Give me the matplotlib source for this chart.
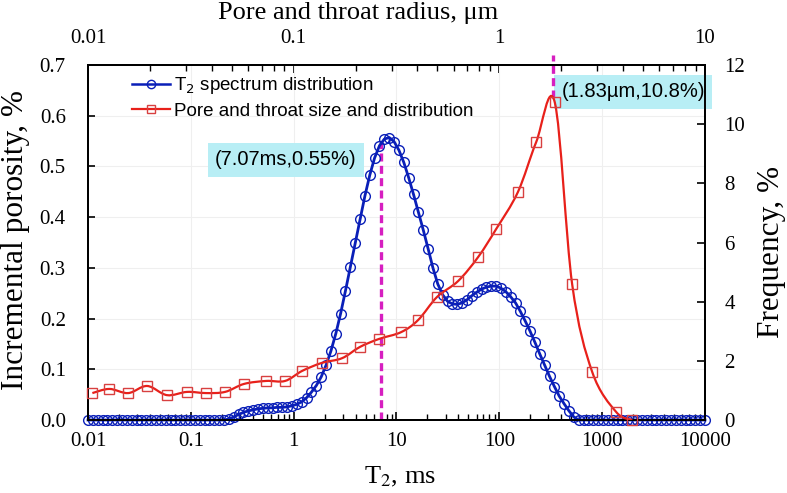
import numpy as np
import matplotlib.pyplot as plt
from matplotlib.path import Path
from matplotlib.patches import PathPatch
from matplotlib.lines import Line2D
from matplotlib.ticker import FixedLocator, FuncFormatter, NullFormatter

# T2 spectrum: 128 bins, log spaced between 0.01 and 10000 ms
t2 = np.logspace(-2, 4, 128)
t2_porosity = ([0.0] * 29 + [
    0.002, 0.006, 0.011, 0.015, 0.018, 0.020, 0.022, 0.023, 0.024, 0.024,
    0.025, 0.025, 0.026, 0.028, 0.031, 0.036, 0.044, 0.055, 0.068, 0.085,
    0.108, 0.136, 0.170, 0.210, 0.255, 0.302, 0.350, 0.397, 0.442, 0.483,
    0.517, 0.541, 0.554, 0.557, 0.549, 0.532, 0.508, 0.478, 0.445, 0.410,
    0.375, 0.338, 0.300, 0.268, 0.247, 0.234, 0.229, 0.228, 0.231, 0.237,
    0.245, 0.252, 0.258, 0.262, 0.264, 0.264, 0.260, 0.253, 0.243, 0.231,
    0.214, 0.195, 0.175, 0.153, 0.130, 0.108, 0.086, 0.066, 0.047, 0.032,
    0.018, 0.006] + [0.0] * 27)

# pore / throat radius (um) and frequency (%)
radius = [0.0105, 0.0127, 0.0157, 0.0194, 0.0242, 0.0303, 0.0375, 0.0464,
          0.0574, 0.0734, 0.0908, 0.110, 0.137, 0.172, 0.210, 0.260, 0.333,
          0.403, 0.498, 0.631, 0.789, 0.964, 1.23, 1.51, 1.86, 2.26, 2.83,
          3.70, 4.43]
freq = [0.91, 1.05, 0.91, 1.15, 0.84, 0.95, 0.91, 0.95, 1.22, 1.32, 1.32,
        1.66, 1.93, 2.09, 2.47, 2.74, 2.97, 3.38, 4.16, 4.70, 5.51, 6.45,
        7.70, 9.39, 10.74, 4.59, 1.62, 0.27, 0.0]

t2_peak, por_peak = 7.07, 0.555
r_peak, f_peak = 1.83, 10.9

x_ticks = [0.01, 0.1, 1, 10, 100, 1000, 10000]
r_ticks = [0.01, 0.1, 1, 10]


def r_to_t2(r):
    return 100.0 * np.asarray(r) ** 2


def t2_to_r(t):
    return 0.1 * np.sqrt(np.asarray(t))


def smooth_path(x, y):
    # excel-like smoothed line (bezier through points, in log-x space)
    lx = np.log10(x)
    n = len(x)
    verts = [(x[0], y[0])]
    codes = [Path.MOVETO]
    for i in range(n - 1):
        i0 = max(i - 1, 0)
        i3 = min(i + 2, n - 1)
        c1 = (lx[i] + (lx[i + 1] - lx[i0]) / 6, y[i] + (y[i + 1] - y[i0]) / 6)
        c2 = (lx[i + 1] - (lx[i3] - lx[i]) / 6, y[i + 1] - (y[i3] - y[i]) / 6)
        verts += [(10 ** c1[0], c1[1]), (10 ** c2[0], c2[1]), (x[i + 1], y[i + 1])]
        codes += [Path.CURVE4] * 3
    return Path(verts, codes)


serif = 'Liberation Serif'
sans = 'Liberation Sans'
blue = '#0a1fb8'
red = '#e8201a'
mag = '#d61fc0'

fig = plt.figure(figsize=(7.87, 4.93), dpi=100)
ax = fig.add_axes([88 / 787, 1 - 420 / 493, 617 / 787, 355 / 493])
ax.set_xscale('log')
ax.set_xlim(0.01, 10000)
ax.set_ylim(0, 0.7)
ax.grid(True, which='major', color='#efefef', lw=0.8)
ax.set_axisbelow(True)

ax2 = ax.twinx()
ax2.set_ylim(0, 12)

# blue T2 spectrum
ax.plot(t2, t2_porosity, '-', color=blue, lw=2.0, marker='o', ms=7,
        mfc='none', mec=blue, mew=1.0, clip_on=False, zorder=3)

# red pore size distribution
t2_red = r_to_t2(radius)
ax2.add_patch(PathPatch(smooth_path(t2_red, np.array(freq)), fc='none',
                        ec=red, lw=1.6, zorder=3))
ax2.plot(t2_red, freq, 's', ms=7, mfc='none', mec='#d84040', mew=1.0,
         clip_on=False, zorder=4)

# peak markers
ax.plot([t2_peak, t2_peak], [0, por_peak], color=mag, lw=2.4,
        dashes=(2.4, 1.3), zorder=2)
ax2.plot([r_to_t2(r_peak)] * 2, [f_peak, 12.35], color=mag, lw=2.4,
         dashes=(2.4, 1.3), clip_on=False, zorder=2)

box = dict(boxstyle='square,pad=0.38', fc='#b8eef5', ec='none')
ax.text(0.842, 0.513, '(7.07ms,0.55%)', family=sans, fontsize=14.5,
        ha='center', va='center', bbox=box, zorder=5)
ax.text(1995, 0.647, '(1.83\u00b5m,10.8%)', family=sans, fontsize=14.5,
        ha='center', va='center', bbox=box, zorder=5)

# axes styling
fmt = FuncFormatter(lambda v, p: '%g' % v)
ax.xaxis.set_major_locator(FixedLocator(x_ticks))
ax.xaxis.set_major_formatter(fmt)
ax.xaxis.set_minor_formatter(NullFormatter())
ax.yaxis.set_major_formatter(FuncFormatter(lambda v, p: '%.1f' % v))
ax2.yaxis.set_major_locator(FixedLocator([0, 2, 4, 6, 8, 10, 12]))
ax2.yaxis.set_major_formatter(FuncFormatter(lambda v, p: '%d' % v))

ax.tick_params(axis='x', which='major', direction='in', length=6, width=1.2,
               pad=9, labelsize=15, top=False)
ax.tick_params(axis='x', which='minor', direction='in', length=4, width=1.0,
               top=False)
ax.tick_params(axis='y', direction='in', length=5, width=1.2, pad=16,
               labelsize=15)
ax2.tick_params(axis='y', direction='in', length=6, width=1.2, pad=14,
                labelsize=15)

secax = ax.secondary_xaxis('top', functions=(t2_to_r, r_to_t2))
secax.xaxis.set_major_locator(FixedLocator(r_ticks))
secax.xaxis.set_major_formatter(fmt)
secax.xaxis.set_minor_formatter(NullFormatter())
secax.tick_params(axis='x', which='major', direction='in', length=6,
                  width=1.2, pad=12, labelsize=15)
secax.tick_params(axis='x', which='minor', direction='in', length=4,
                  width=1.0)

for a in (ax, ax2, secax):
    for lab in a.get_xticklabels() + a.get_yticklabels():
        lab.set_family(serif)
for sp in list(ax.spines.values()) + list(ax2.spines.values()) + list(secax.spines.values()):
    sp.set_linewidth(1.4)

fig.text(16 / 787, 1 - 240 / 493, 'Incremental porosity, %', family=serif,
         fontsize=22.5, rotation=90, ha='center', va='center')
fig.text(772 / 787, 1 - 252 / 493, 'Frequency, %', family=serif,
         fontsize=22.5, rotation=90, ha='center', va='center')
fig.text(400 / 787, 1 - 477 / 493, 'T$_2$, ms', family=serif, fontsize=19,
         ha='center', va='center', math_fontfamily='stix')
fig.text(358 / 787, 1 - 13 / 493, 'Pore and throat radius, \u03bcm',
         family=serif, fontsize=19, ha='center', va='center')

handles = [
    Line2D([], [], color=blue, lw=1.8, marker='o', ms=6, mfc='none', mec=blue),
    Line2D([], [], color=red, lw=1.6, marker='s', ms=6, mfc='none', mec='#d84040'),
]
ax2.legend(handles, ['T$_2$ spectrum distribution',
                     'Pore and throat size and distribution'],
           loc='upper left', bbox_to_anchor=(0.072, 0.971), frameon=False,
           prop={'family': sans, 'size': 13.5}, handlelength=2.0,
           handletextpad=0.2, borderpad=0, borderaxespad=0, labelspacing=0.35)

fig.savefig('out.png', dpi=100)
